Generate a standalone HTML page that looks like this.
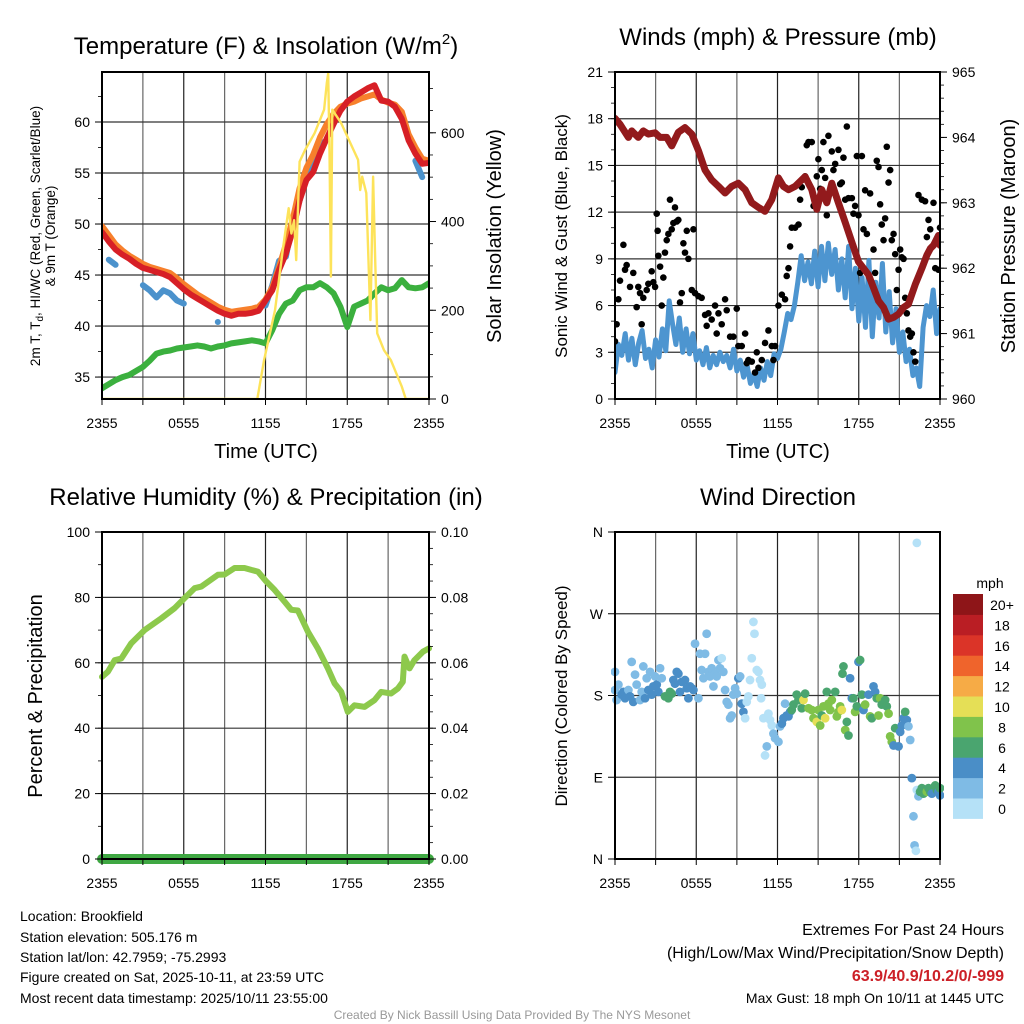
<!DOCTYPE html>
<html><head><meta charset="utf-8">
<style>
html,body{margin:0;padding:0;background:#fff;}
svg{display:block;font-family:"Liberation Sans",Arial,sans-serif;}
</style></head>
<body>
<svg id="fig" width="1024" height="1024" viewBox="0 0 1024 1024" xmlns="http://www.w3.org/2000/svg">
<defs>
<clipPath id="c1"><rect x="102" y="72" width="327" height="327"/></clipPath>
<clipPath id="c2"><rect x="615" y="72" width="325" height="327"/></clipPath>
<clipPath id="c3"><rect x="96" y="532" width="339" height="333"/></clipPath>
<clipPath id="c4"><rect x="611" y="528" width="333" height="335"/></clipPath>
</defs>
<rect width="1024" height="1024" fill="#fff"/>
<g id="gridlayer"></g>
<g id="datalayer"></g>
<g id="axislayer"></g>

<text x="266" y="54" font-size="24" text-anchor="middle">Temperature (F) &amp; Insolation (W/m<tspan dy="-10" font-size="15">2</tspan><tspan dy="10">)</tspan></text>
<text x="778" y="45" font-size="24" text-anchor="middle">Winds (mph) &amp; Pressure (mb)</text>
<text x="266" y="505" font-size="24" text-anchor="middle">Relative Humidity (%) &amp; Precipitation (in)</text>
<text x="778" y="505" font-size="24" text-anchor="middle">Wind Direction</text>

<text x="266" y="458" font-size="20" text-anchor="middle">Time (UTC)</text>
<text x="778" y="458" font-size="20" text-anchor="middle">Time (UTC)</text>

<text transform="translate(40,236) rotate(-90)" font-size="13.5" text-anchor="middle">2m T, T<tspan font-size="10" dy="3">d</tspan><tspan dy="-3">, HI/WC (Red, Green, Scarlet/Blue)</tspan></text>
<text transform="translate(55,236) rotate(-90)" font-size="13.5" text-anchor="middle">&amp; 9m T (Orange)</text>
<text transform="translate(501,236) rotate(-90)" font-size="20" text-anchor="middle">Solar Insolation (Yellow)</text>
<text transform="translate(567,236) rotate(-90)" font-size="17" text-anchor="middle">Sonic Wind &amp; Gust (Blue, Black)</text>
<text transform="translate(1015,236) rotate(-90)" font-size="20" text-anchor="middle">Station Pressure (Maroon)</text>
<text transform="translate(42,696) rotate(-90)" font-size="20" text-anchor="middle">Percent &amp; Precipitation</text>
<text transform="translate(567,696) rotate(-90)" font-size="17" text-anchor="middle">Direction (Colored By Speed)</text>

<g id="colorbar"></g>
<text x="990" y="588" font-size="14" text-anchor="middle">mph</text>

<g font-size="14">
<text x="20" y="921">Location: Brookfield</text>
<text x="20" y="942">Station elevation: 505.176 m</text>
<text x="20" y="962">Station lat/lon: 42.7959; -75.2993</text>
<text x="20" y="982">Figure created on Sat, 2025-10-11, at 23:59 UTC</text>
<text x="20" y="1003">Most recent data timestamp: 2025/10/11 23:55:00</text>
</g>
<g text-anchor="end">
<text x="1004" y="935" font-size="16">Extremes For Past 24 Hours</text>
<text x="1004" y="958" font-size="16">(High/Low/Max Wind/Precipitation/Snow Depth)</text>
<text x="1004" y="981" font-size="16" font-weight="bold" fill="#cc2027">63.9/40.9/10.2/0/-999</text>
<text x="1004" y="1003" font-size="14">Max Gust: 18 mph On 10/11 at 1445 UTC</text>
</g>
<text x="512" y="1019" font-size="12" fill="#999" text-anchor="middle">Created By Nick Bassill Using Data Provided By The NYS Mesonet</text>
</svg>

<script>
// ---------- DATA ----------
const timeTickLabels = ["2355","0555","1155","1755","2355"];
const tempTicks = [35,40,45,50,55,60];
const solarTicks = [0,200,400,600];
const windTicks = [0,3,6,9,12,15,18,21];
const pressTicks = [960,961,962,963,964,965];
const rhTicks = [0,20,40,60,80,100];
const precipTicks = ["0.00","0.02","0.04","0.06","0.08","0.10"];
const dirTickLabels = ["N","E","S","W","N"];
const dirTickValues = [0,90,180,270,360];

const tempRed = [49.2,48.3,47.5,47.0,46.6,46.1,45.7,45.5,45.3,45.1,44.8,44.2,43.6,43.1,42.7,42.3,41.9,41.5,41.2,41.0,41.2,41.2,41.3,41.5,42.5,43.5,45.5,47.1,49.4,52.3,54.3,55.1,56.9,58.4,59.8,61.1,62.0,62.5,62.9,63.3,63.6,62.1,62.0,61.5,60.3,58.2,56.9,55.9,56.0];
const tempOrange = [49.8,48.9,48.0,47.4,46.9,46.5,46.1,45.8,45.6,45.4,45.2,44.7,44.1,43.6,43.1,42.7,42.3,41.9,41.6,41.4,41.5,41.6,41.7,41.9,42.6,43.8,45.8,48.0,50.5,53.5,55.5,56.8,58.5,59.8,60.8,61.5,61.8,62.0,62.3,62.5,62.7,62.2,61.9,61.7,61.0,58.8,57.5,56.4,56.2];
const windChill = [null,46.5,46.0,null,null,null,44.0,43.5,42.8,43.5,43.2,42.5,42.2,null,null,null,null,40.4,null,null,null,null,null,null,42.0,44.0,46.4,46.8,50.4,52.3,54.6,56.6,58.2,null,null,null,null,null,null,null,null,null,null,null,null,null,56.2,54.6,null];
const dewpoint = [33.9,34.3,34.7,35.0,35.2,35.6,36.0,36.6,37.3,37.5,37.6,37.8,37.9,38.0,38.1,38.0,37.8,38.0,38.1,38.3,38.4,38.5,38.6,38.5,38.3,39.6,41.2,42.2,42.5,43.5,43.8,43.8,44.2,43.8,43.2,41.9,39.9,41.9,42.2,42.5,43.2,43.8,43.5,43.7,44.5,43.8,43.7,43.8,44.2];

const solarT = [0,11.4,11.9,12.7,13.3,13.7,13.9,14.1,14.25,14.5,14.9,15.6,16.3,16.5,16.6,16.7,16.8,16.9,17.55,18.8,18.95,19.1,19.4,19.7,19.9,20.05,20.2,20.7,21.2,22,22.3,24];
const solarW = [0,0,88,200,343,430,373,403,313,535,561,599,652,712,734,560,276,652,622,539,471,501,464,178,501,313,148,110,88,28,0,0];

const sonicWind = [1.7,3.5,2.8,4.2,2.5,3.9,2.2,3.6,4.4,
2.6,3.2,2.0,3.8,2.7,4.5,3.1,6.3,
4.8,3.5,5.2,3.0,4.5,2.9,4.2,2.5,
3.1,2.2,3.3,2.0,2.8,2.2,3.0,2.4,
2.8,2.0,3.2,1.8,2.5,1.4,2.2,1.0,
1.6,0.8,2.0,1.2,2.4,1.5,2.9,2.6,
3.2,4.3,5.5,5.1,6.0,7.5,9.2,7.6,
8.8,7.4,9.5,7.2,9.8,7.6,10.0,8.0,
9.6,7.0,9.0,6.5,9.8,5.8,8.4,5.0,
7.8,4.6,8.9,4.0,7.5,5.2,8.7,4.3,
6.9,3.6,5.8,3.0,4.3,2.4,3.2,1.5,
2.0,0.8,4.6,6.0,5.3,7.0,4.2,5.8];

const gustT = [0,0.12,0.25,0.37,0.62,0.74,0.86,1.11,1.35,1.6,1.72,1.85,1.97,2.09,2.34,2.46,2.71,2.83,2.96,3.08,3.15,3.2,3.33,3.45,3.57,3.69,3.82,3.94,4.06,4.19,4.31,4.43,4.56,4.68,4.8,4.93,5.05,5.17,5.3,5.42,5.67,5.79,5.91,6.16,6.4,6.65,6.77,6.9,7.14,7.39,7.51,7.64,7.88,8.13,8.25,8.5,8.74,8.99,9.11,9.36,9.61,9.73,9.85,10.1,10.34,10.47,10.59,10.84,11.08,11.33,11.58,11.7,11.82,12.07,12.32,12.56,12.68,12.81,12.93,13.05,13.3,13.55,13.67,13.79,13.92,14.04,14.16,14.29,14.53,14.66,14.9,15.02,15.15,15.27,15.39,15.52,15.64,15.76,16.01,16.13,16.26,16.5,16.63,16.75,16.87,17.0,17.12,17.24,17.49,17.61,17.73,17.86,17.98,18.1,18.23,18.35,18.47,18.6,18.84,19.09,19.21,19.33,19.46,19.58,19.7,19.83,19.95,20.07,20.2,20.32,20.44,20.57,20.69,20.81,20.94,21.06,21.18,21.31,21.43,21.55,21.67,21.8,21.92,22.04,22.17,22.41,22.66,22.9,23.03,23.15,23.28,23.52,23.65,23.89,24.0];
const gustV = [3.7,4.8,6.4,7.6,9.9,8.3,8.6,7.2,8.1,5.9,7.2,6.8,4.8,6.5,7.0,7.4,8.2,7.5,7.2,11.9,10.8,9.2,8.5,6.0,7.8,9.4,10.2,10.6,12.8,10.9,11.3,12.3,11.4,11.5,6.2,6.8,10.0,9.4,10.8,9.0,7.0,10.9,6.8,6.6,6.5,5.4,4.7,5.5,5.1,6.0,4.2,5.5,4.8,6.4,5.7,4.0,4.0,5.8,3.4,3.4,4.2,2.3,2.5,2.4,1.7,3.0,2.0,2.5,3.6,4.4,3.4,2.5,3.4,6.0,6.7,6.4,7.9,8.4,9.8,11.0,11.0,11.2,12.8,13.6,14.1,14.3,16.3,16.5,16.5,12.4,14.3,15.4,13.5,14.7,16.5,14.2,11.8,16.9,15.9,14.7,15.1,16.0,13.8,13.9,15.5,12.8,17.5,12.9,12.9,11.9,12.4,15.6,11.8,8.1,15.6,10.9,13.4,10.6,13.2,9.6,8.1,15.3,14.9,12.5,11.2,10.2,11.6,16.2,13.9,14.7,10.2,10.6,9.3,7.0,8.3,9.6,9.1,9.0,6.5,5.5,4.4,4.0,4.2,3.0,2.4,13.1,12.8,12.7,10.4,11.5,10.9,12.6,8.4,8.3,11.0];

const pressT = [0,0.37,0.99,1.23,1.72,2.09,2.46,2.96,3.33,3.82,4.19,4.68,5.17,5.67,6.16,6.65,7.14,7.64,8.13,8.62,9.11,9.61,10.1,10.59,11.08,11.58,12.07,12.44,12.81,13.3,14.04,14.53,14.9,15.27,15.64,16.01,16.5,17.0,17.49,17.98,18.72,19.09,19.46,19.83,20.2,20.57,20.94,21.31,21.67,22.17,22.66,23.03,23.28,23.52,23.89,24];
const pressV = [964.29,964.2,964.0,964.1,964.0,964.1,964.05,964.07,964.0,964.0,963.87,964.08,964.15,964.05,963.8,963.5,963.35,963.25,963.15,963.25,963.3,963.2,963.0,962.93,962.87,963.05,963.38,963.25,963.2,963.25,963.4,963.2,962.9,963.2,963.0,963.3,963.0,962.7,962.4,962.1,961.9,961.7,961.5,961.4,961.22,961.25,961.3,961.4,961.45,961.75,962.0,962.2,962.3,962.35,962.5,962.35];

const rhT = [0,0.44,0.93,1.42,2.15,3.13,4.35,5.33,6.06,6.8,7.29,8.51,9.0,9.73,10.46,10.95,11.44,12.05,12.67,13.4,13.89,14.38,15.11,15.84,16.58,17.07,17.56,18.04,18.53,19.27,20.0,20.49,21.22,21.71,22.08,22.2,22.57,22.93,23.55,24];
const rhV = [55.7,57.3,60.8,61.3,66,70,73.6,76.7,79.8,82.8,83.3,86.9,87,89,89,88.4,87.9,84.9,82.3,78.7,76.2,76,69.5,64.4,58.3,53.7,51.1,45,47,46.5,48.6,51.1,50.6,52.1,54.2,61.9,58.3,60.8,63.4,64.4];
const precipT = [0,24];
const precipV = [0,0];

const dirT = [0,0,0.12,0.25,0.49,0.62,0.74,0.86,0.99,1.11,1.23,1.35,1.48,1.6,1.85,1.97,2.09,2.22,2.34,2.46,2.59,2.71,2.83,2.96,3.08,3.2,3.33,3.45,3.69,3.94,4.06,4.19,4.31,4.43,4.56,4.68,4.8,4.93,5.17,5.3,5.42,5.54,5.67,5.79,5.91,6.16,6.28,6.4,6.53,6.65,6.77,6.9,7.02,7.14,7.27,7.39,7.51,7.64,7.76,7.88,8.0,8.13,8.25,8.37,8.5,8.62,8.74,8.87,8.99,9.11,9.24,9.36,9.48,9.61,9.73,9.85,9.97,10.1,10.22,10.3,10.47,10.59,10.71,10.79,10.84,10.96,11.08,11.21,11.33,11.45,11.58,11.7,11.82,12.07,12.19,12.32,12.44,12.56,12.68,12.81,12.93,13.05,13.18,13.42,13.55,13.79,13.92,14.04,14.29,14.53,14.66,14.9,15.02,15.15,15.27,15.39,15.52,15.64,15.76,15.89,16.01,16.26,16.38,16.5,16.63,16.75,16.8,16.87,17.0,17.12,17.24,17.36,17.49,17.61,17.73,17.86,17.98,18.1,18.23,18.35,18.47,18.72,18.84,18.96,19.09,19.21,19.33,19.46,19.58,19.7,19.95,20.07,20.2,20.32,20.44,20.57,20.69,20.94,21.06,21.18,21.31,21.43,21.55,21.67,21.8,21.92,22.04,22.12,22.22,22.29,22.29,22.41,22.53,22.66,22.78,22.9,23.03,23.15,23.28,23.4,23.65,23.77,23.89,24.0,24.0];
const dirDeg = [186,206,175,192,181,184,177,182,186,179,217,173,203,192,175,184,212,177,199,186,206,181,190,201,192,184,210,199,179,177,184,182,197,193,206,204,184,195,197,188,177,190,188,186,237,177,226,208,199,226,248,206,201,210,190,204,201,219,210,221,206,186,173,170,155,158,181,188,182,199,201,171,162,155,173,179,197,221,261,248,208,206,197,177,192,155,114,124,160,153,147,138,133,129,146,149,155,171,158,157,162,164,170,181,175,166,175,182,166,164,155,151,164,147,158,168,155,184,171,164,175,184,157,162,168,164,204,212,142,151,136,199,177,177,162,168,217,219,181,164,170,181,157,155,190,184,177,158,177,170,175,168,160,135,129,125,144,124,140,147,155,162,153,146,131,89,47,15,9,76,348,69,74,78,72,76,74,78,74,72,81,76,74,70,78];
const dirSpd = [3,3,3,3,5,5,5,5,3,5,3,5,3,3,3,3,3,5,3,5,3,5,5,3,5,5,3,3,7,7,7,7,5,5,5,5,5,5,5,5,5,5,5,5,3,3,3,3,3,3,3,3,3,3,3,3,3,3,3,1,3,3,3,3,3,3,3,3,3,5,3,5,5,1,1,1,1,1,1,1,1,1,1,1,1,1,1,3,1,1,1,3,3,3,3,5,5,3,5,5,5,7,7,7,7,7,11,7,9,9,9,11,9,9,7,9,11,7,9,9,9,7,9,9,9,11,7,7,9,7,7,5,5,7,9,7,5,7,7,5,9,5,9,7,5,5,7,9,9,7,7,7,9,9,9,5,7,5,5,5,5,7,5,3,3,5,3,3,1,1,1,3,7,7,7,7,9,7,7,5,7,7,5,5,7];

const speedBins = ["0","2","4","6","8","10","12","14","16","18","20+"];
const speedColors = ["#b5e1f7","#7fbbe5","#4a8ec7","#4aa56f","#80c34b","#e5df56","#f6ab46","#ef642c","#db3428","#ba1e24","#8e1518"];

// ---------- LAYOUT ----------
const NS = "http://www.w3.org/2000/svg";
const P1 = {x0:102,x1:429,y0:72,y1:399};
const P2 = {x0:615,x1:940,y0:72,y1:399};
const P3 = {x0:102,x1:429,y0:532,y1:859};
const P4 = {x0:615,x1:940,y0:532,y1:859};
const grid = document.getElementById('gridlayer');
const dataRoot = document.getElementById('datalayer');
const axes = document.getElementById('axislayer');

function el(tag, attrs, parent){
  const e = document.createElementNS(NS, tag);
  for (const k in attrs) e.setAttribute(k, attrs[k]);
  parent.appendChild(e);
  return e;
}
function xScale(P){ return t => P.x0 + t/24*(P.x1-P.x0); }
function yScale(P, lo, hi){ return v => P.y1 - (v-lo)/(hi-lo)*(P.y1-P.y0); }
function clipGroup(id, name){
  const g = el('g',{'clip-path':'url(#'+id+')'}, dataRoot);
  
  
  return g;
}

function drawLine(xs, ys, X, Y, color, w, name, parent){
  let d = "", segOpen = false;
  for (let i=0;i<xs.length;i++){
    if (ys[i]===null){ segOpen=false; continue; }
    const px = X(xs[i]).toFixed(1), py = Y(ys[i]).toFixed(1);
    if (!segOpen){
      const single = (i+1>=xs.length || ys[i+1]===null);
      d += "M"+px+" "+py+(single?" L"+(+px+0.1)+" "+py:"");
      segOpen=true;
    } else d += " L"+px+" "+py;
  }
  const p = el('path',{d:d,fill:'none',stroke:color,'stroke-width':w,'stroke-linejoin':'round','stroke-linecap':'round'}, parent);
  
  
  return p;
}

function frame(P, name){
  const X = xScale(P);
  for (let h=3; h<24; h+=3){
    const gl = el('line',{x1:X(h),x2:X(h),y1:P.y0,y2:P.y1,stroke:(h%6===0?'#222':'#666'),'stroke-width':1.2}, grid);
    
    
  }
  for (let h=0; h<=24; h+=3){
    const tk = el('line',{x1:X(h),x2:X(h),y1:P.y1,y2:P.y1+6,stroke:'#000','stroke-width':1}, axes);
    
    
  }
  timeTickLabels.forEach((lab,i)=>{
    const t = el('text',{x:X(i*6),y:P.y1+29,'font-size':14,'text-anchor':'middle'}, axes);
    t.textContent = lab;
    
    
  });
  const r = el('rect',{x:P.x0,y:P.y0,width:P.x1-P.x0,height:P.y1-P.y0,fill:'none',stroke:'#000','stroke-width':2}, axes);
  
  
}
function hgrid(P, vals, Y, name){
  vals.forEach(v=>{
    const y = Y(v);
    if (y<=P.y0+1 || y>=P.y1-1) return;
    const g = el('line',{x1:P.x0,x2:P.x1,y1:y,y2:y,stroke:'#333','stroke-width':1.2}, grid);
    
    
  });
}
function yTicks(P, vals, labels, Y, side, name, minorStep, lo, hi){
  const sx = side==='left'?P.x0:P.x1, dir = side==='left'?-1:1;
  vals.forEach((v,i)=>{
    const y = Y(v);
    const tk = el('line',{x1:sx,x2:sx+dir*7,y1:y,y2:y,stroke:'#000','stroke-width':1}, axes);
    
    
    const t = el('text',{x:sx+dir*12,y:y+5,'font-size':14,'text-anchor':side==='left'?'end':'start'}, axes);
    t.textContent = labels[i];
    
    
  });
  if (minorStep){
    for (let v=Math.ceil(lo/minorStep)*minorStep; v<=hi; v+=minorStep){
      const y = Y(v);
      const mk = el('line',{x1:sx,x2:sx+dir*4,y1:y,y2:y,stroke:'#000','stroke-width':0.8}, axes);
      
      
    }
  }
}
function seq(n, step){ const a=[]; for(let i=0;i<n;i++) a.push(i*step); return a; }

// ---------- PANEL 1 ----------
(function(){
  const X = xScale(P1), Y = yScale(P1, 32.85, 64.9), YS = yScale(P1, 0, 737);
  const g = clipGroup('c1','temp-series');
  frame(P1,'temp-panel');
  hgrid(P1, tempTicks, Y, 'temp-panel');
  yTicks(P1, tempTicks, tempTicks.map(String), Y, 'left', 'temp-axis', 2.5, 32.85, 64.9);
  yTicks(P1, solarTicks, solarTicks.map(String), YS, 'right', 'solar-axis', 50, 0, 737);
  const tt = seq(49, 0.5);
  drawLine(tt, dewpoint, X, Y, '#3bb03e', 6, 'dewpoint-line', g);
  drawLine(tt, windChill, X, Y, '#4b92cc', 6, 'windchill-line', g);
  drawLine(tt, tempOrange, X, Y, '#f7802c', 6, 'temp-9m-line', g);
  drawLine(tt, tempRed, X, Y, '#d71f26', 6, 'temp-2m-line', g);
  drawLine(solarT, solarW, X, YS, '#fde35a', 2.4, 'solar-line', g);
})();

// ---------- PANEL 2 ----------
(function(){
  const X = xScale(P2), Y = yScale(P2, 0, 21), YP = yScale(P2, 960, 965);
  const g = clipGroup('c2','wind-series');
  frame(P2,'wind-panel');
  hgrid(P2, windTicks, Y, 'wind-panel');
  yTicks(P2, windTicks, windTicks.map(String), Y, 'left', 'wind-axis', 1, 0, 21);
  yTicks(P2, pressTicks, pressTicks.map(String), YP, 'right', 'pressure-axis', 0.2, 960, 965);
  drawLine(seq(97,0.25), sonicWind, X, Y, '#4d95d0', 5, 'sonic-wind-line', g);
  gustT.forEach((t,i)=>{
    const c = el('circle',{cx:X(t),cy:Y(gustV[i]),r:3.3,fill:'#000'}, g);
    
    
  });
  drawLine(pressT, pressV, X, YP, '#921a1c', 7, 'pressure-line', g);
})();

// ---------- PANEL 3 ----------
(function(){
  const X = xScale(P3), Y = yScale(P3, 0, 100), YR = yScale(P3, 0, 0.1);
  const g = clipGroup('c3','rh-series');
  frame(P3,'rh-panel');
  hgrid(P3, rhTicks, Y, 'rh-panel');
  yTicks(P3, rhTicks, rhTicks.map(String), Y, 'left', 'rh-axis', 10, 0, 100);
  yTicks(P3, precipTicks.map(Number), precipTicks, YR, 'right', 'precip-axis', 0.005, 0, 0.1);
  drawLine(rhT, rhV, X, Y, '#8dc94c', 6, 'rh-line', g);
  drawLine(precipT, precipV, X, YR, '#3fa843', 10, 'precip-line', g);
})();

// ---------- PANEL 4 ----------
(function(){
  const X = xScale(P4), Y = yScale(P4, 0, 360);
  const g = clipGroup('c4','direction-series');
  frame(P4,'dir-panel');
  hgrid(P4, dirTickValues, Y, 'dir-panel');
  yTicks(P4, dirTickValues, dirTickLabels, Y, 'left', 'dir-axis', 0, 0, 0);
  dirT.forEach((t,i)=>{
    const bin = Math.min(10, Math.floor(dirSpd[i]/2));
    const c = el('circle',{cx:X(t),cy:Y(dirDeg[i]),r:4.4,fill:speedColors[bin]}, g);
    
    
  });
  const cb = document.getElementById('colorbar');
  const top = 594, h = 20.4;
  speedBins.forEach((lab,i)=>{
    const k = speedBins.length-1-i;
    const r = el('rect',{x:953,y:top+k*h,width:30,height:h+0.5,fill:speedColors[i]}, cb);
    
    
    const t = el('text',{x:1002,y:top+k*h+16,'font-size':14,'text-anchor':'middle'}, cb);
    t.textContent = lab;
    
    
  });
})();
</script>
</body></html>
